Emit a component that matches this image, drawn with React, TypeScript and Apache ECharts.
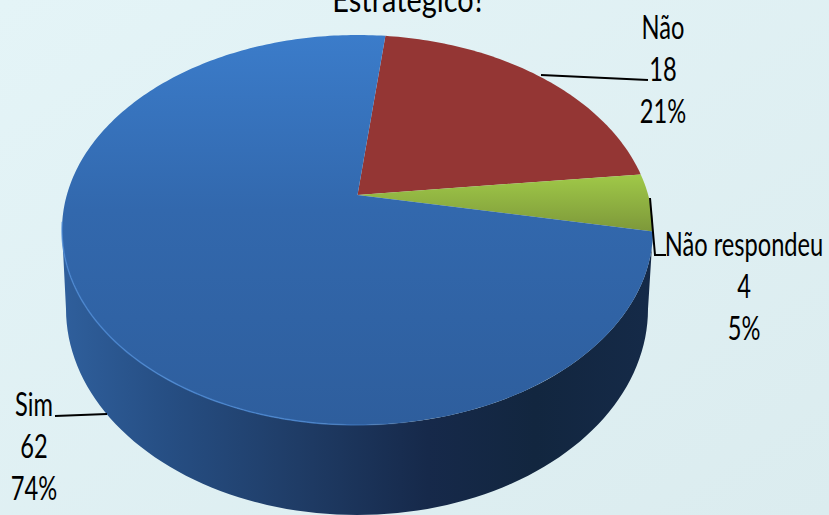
import React, { useEffect, useRef } from "react";
import * as echarts from "echarts";

const W = 829;
const H = 515;

const categories = ["Não", "Não respondeu", "Sim"];
const values = [18, 4, 62];
const percents = ["21%", "5%", "74%"];
const titleText = "Estratégico?";

const startAngleDeg = 6.5;
const top = { cx: 357.5, cy: 230, rx: 295.5, ry: 195 };
const bottom = { cx: 357, cy: 309, rx: 291, ry: 206 };
const tilt = 0.18;

const fills: any[] = [
  "#943634",
  { type: "linear", x: 0, y: 0, x2: 0, y2: 1, colorStops: [{ offset: 0, color: "#a0c948" }, { offset: 1, color: "#7d983a" }] },
  { type: "linear", x: 0, y: 0, x2: 0, y2: 1, colorStops: [{ offset: 0, color: "#3b7cca" }, { offset: 0.45, color: "#3268ad" }, { offset: 1, color: "#2e5e9d" }] },
];

const labelSpots = [
  { x: 663, y: 26, line: [[541, 75], [648, 80]] },
  { x: 744, y: 243, line: [[650, 198], [655, 255], [666, 255]] },
  { x: 34, y: 403, line: [[55, 416], [107, 414]] },
];
const lineGap = 42;

// circle seen in perspective: the centre of the pie lands above the centre of the ellipse
function project(deg: number): number[] {
  const a = (deg * Math.PI) / 180;
  const u = Math.sin(a);
  const v = Math.cos(a);
  const d = 1 + tilt * v;
  const u2 = (u * Math.sqrt(1 - tilt * tilt)) / d;
  const v2 = (v + tilt) / d;
  return [top.cx + top.rx * u2, top.cy - top.ry * v2];
}

function arcPoints(from: number, to: number): number[][] {
  const pts: number[][] = [];
  const n = Math.max(4, Math.ceil(Math.abs(to - from)));
  for (let i = 0; i <= n; i++) pts.push(project(from + ((to - from) * i) / n));
  return pts;
}

function wallPoints(): number[][] {
  const pts: number[][] = [];
  for (let t = 90; t <= 270; t += 2) {
    const a = (t * Math.PI) / 180;
    pts.push([top.cx + top.rx * Math.sin(a), top.cy - top.ry * Math.cos(a)]);
  }
  for (let t = 270; t >= 90; t -= 2) {
    const a = (t * Math.PI) / 180;
    pts.push([bottom.cx + bottom.rx * Math.sin(a), bottom.cy - bottom.ry * Math.cos(a)]);
  }
  return pts;
}

export default function App() {
  const ref = useRef<HTMLDivElement>(null);
  useEffect(() => {
    document.body.style.margin = "0";
    const chart = echarts.init(ref.current!, undefined, { renderer: "svg", width: W, height: H });
    const total = values.reduce((s, v) => s + v, 0);
    const textStyle = { fontFamily: "Lato, sans-serif", fontSize: 32, fill: "#000000", align: "center", verticalAlign: "middle" };
    const squeeze = 0.74;

    const graphics: any[] = [
      { type: "text", x: 409, y: -1, scaleX: 0.85, style: { ...textStyle, fontSize: 34, text: titleText } },
    ];
    categories.forEach((c, i) => {
      const s = labelSpots[i];
      [c, String(values[i]), percents[i]].forEach((t, k) => {
        graphics.push({ type: "text", x: s.x, y: s.y + k * lineGap, scaleX: squeeze, style: { ...textStyle, text: t } });
      });
    });

    chart.setOption({
      animation: false,
      backgroundColor: {
        type: "linear", x: 0, y: 0, x2: 1, y2: 1,
        colorStops: [{ offset: 0, color: "#e4f4f7" }, { offset: 1, color: "#dbecef" }],
      },
      graphic: graphics,
      series: [
        {
          type: "custom",
          coordinateSystem: "none",
          silent: true,
          z: 1,
          data: [[0]],
          renderItem: () => ({
            type: "polygon",
            shape: { points: wallPoints() },
            style: {
              fill: {
                type: "linear", x: 0, y: 0, x2: 1, y2: 0,
                colorStops: [
                  { offset: 0, color: "#2f5f9c" },
                  { offset: 0.18, color: "#264e83" },
                  { offset: 0.4, color: "#1f3c66" },
                  { offset: 0.62, color: "#16294a" },
                  { offset: 0.8, color: "#12263f" },
                  { offset: 1, color: "#152a48" },
                ],
              },
            },
          }),
        },
        {
          type: "custom",
          coordinateSystem: "none",
          silent: true,
          z: 2,
          data: values.map((v, i) => [v, i]),
          renderItem: (_p: any, api: any) => {
            const i = api.value(1);
            let from = startAngleDeg;
            for (let k = 0; k < i; k++) from += (values[k] / total) * 360;
            const to = from + (api.value(0) / total) * 360;
            const centre = [top.cx, top.cy - top.ry * tilt];
            const children: any[] = [
              {
                type: "polygon",
                shape: { points: [centre, ...arcPoints(from, to)] },
                style: { fill: fills[i] },
              },
            ];
            if (i === 2) {
              children.push({
                type: "polyline",
                shape: { points: arcPoints(170, 262) },
                style: {
                  fill: "none",
                  lineWidth: 1.5,
                  stroke: {
                    type: "linear", x: 1, y: 0, x2: 0, y2: 0,
                    colorStops: [
                      { offset: 0, color: "rgba(76,138,214,0)" },
                      { offset: 0.3, color: "rgba(76,138,214,0.75)" },
                      { offset: 1, color: "rgba(76,138,214,0.75)" },
                    ],
                  },
                },
              });
            }
            return { type: "group", children };
          },
        },
        {
          type: "custom",
          coordinateSystem: "none",
          silent: true,
          z: 3,
          data: labelSpots.map((_s, i) => [i]),
          renderItem: (_p: any, api: any) => ({
            type: "polyline",
            shape: { points: labelSpots[api.value(0)].line },
            style: { fill: "none", stroke: "#000000", lineWidth: 2 },
          }),
        },
      ],
    });
    return () => chart.dispose();
  }, []);
  return <div ref={ref} style={{ width: W, height: H }} />;
}
